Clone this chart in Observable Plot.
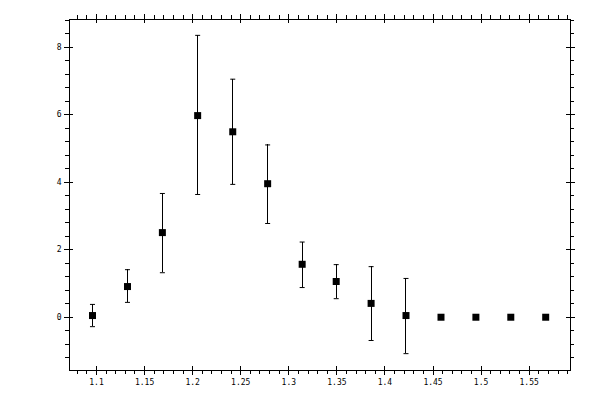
<!DOCTYPE html>
<html>
<head>
<meta charset="utf-8">
<script src="https://cdn.jsdelivr.net/npm/d3@7"></script>
<script src="https://cdn.jsdelivr.net/npm/@observablehq/plot@0.6"></script>
<style>
  html, body { margin: 0; padding: 0; background: white; }
</style>
</head>
<body>
<div id="chart"></div>
<script>
// Data
const xs    = [1.0958, 1.1322, 1.1685, 1.2052, 1.2417, 1.2780, 1.3139, 1.3493, 1.3856, 1.4219, 1.4583, 1.4946, 1.5309, 1.5672];
const ys    = [0.05,   0.91,   2.51,   5.98,   5.50,   3.96,   1.57,   1.06,   0.41,   0.05,   0,      0,      0,      0];
const upper = [0.38,   1.41,   3.67,   8.36,   7.06,   5.11,   2.23,   1.56,   1.50,   1.15,   null,   null,   null,   null];
const lower = [-0.28,  0.44,   1.32,   3.64,   3.94,   2.78,   0.88,   0.55,  -0.69,  -1.08,   null,   null,   null,   null];

// Tick labels
const xMajor = [1.1, 1.15, 1.2, 1.25, 1.3, 1.35, 1.4, 1.45, 1.5, 1.55];
const xMinor = [1.08, 1.09, 1.11, 1.12, 1.13, 1.14, 1.16, 1.17, 1.18, 1.19, 1.21, 1.22, 1.23, 1.24,
                1.26, 1.27, 1.28, 1.29, 1.31, 1.32, 1.33, 1.34, 1.36, 1.37, 1.38, 1.39, 1.41, 1.42,
                1.43, 1.44, 1.46, 1.47, 1.48, 1.49, 1.51, 1.52, 1.53, 1.54, 1.56, 1.57, 1.58, 1.59];
const yMajor = [0, 2, 4, 6, 8];
const yMinor = [-1.2, -0.8, -0.4, 0.4, 0.8, 1.2, 1.6, 2.4, 2.8, 3.2, 3.6, 4.4, 4.8, 5.2, 5.6,
                6.4, 6.8, 7.2, 7.6, 8.4, 8.8];

const data = xs.map((x, i) => ({x, y: ys[i], hi: upper[i], lo: lower[i]}));
const bars = data.filter(d => d.hi != null);

const W = 600, H = 400;
const mL = 69, mR = 30, mT = 19, mB = 30;
const innerW = W - mL - mR, innerH = H - mT - mB;

const capSymbol = {
  draw(ctx) { ctx.moveTo(-2.5, 0); ctx.lineTo(2.5, 0); }
};
const squareSymbol = {
  draw(ctx) { ctx.rect(-3.5, -3.5, 7, 7); }
};

const crisp = {stroke: "black", strokeWidth: 1, shapeRendering: "crispEdges"};

const chart = Plot.plot({
  width: W,
  height: H,
  marginLeft: mL,
  marginRight: mR,
  marginTop: mT,
  marginBottom: mB,
  style: {fontFamily: "'DejaVu Sans Mono', monospace", fontSize: "8px", background: "white", color: "black"},
  x: {domain: [1.0719, 1.593], axis: null},
  y: {domain: [-1.58, 8.83], axis: null},
  marks: [
    Plot.frame(crisp),
    // bottom ticks
    Plot.tickX(xMajor, {x: d => d, insetTop: innerH - 4, insetBottom: -5, ...crisp}),
    Plot.tickX(xMinor, {x: d => d, insetTop: innerH, insetBottom: -4, ...crisp}),
    // top ticks
    Plot.tickX(xMajor, {x: d => d, insetTop: -5, insetBottom: innerH - 4, ...crisp}),
    Plot.tickX(xMinor, {x: d => d, insetTop: -4, insetBottom: innerH, ...crisp}),
    // left ticks
    Plot.tickY(yMajor, {y: d => d, insetLeft: -5, insetRight: innerW - 4, ...crisp}),
    Plot.tickY(yMinor, {y: d => d, insetLeft: -4, insetRight: innerW, ...crisp}),
    // right ticks
    Plot.tickY(yMajor, {y: d => d, insetLeft: innerW - 4, insetRight: -5, ...crisp}),
    Plot.tickY(yMinor, {y: d => d, insetLeft: innerW, insetRight: -4, ...crisp}),
    // tick labels
    Plot.text(xMajor, {x: d => d, frameAnchor: "bottom", dy: 12, lineAnchor: "middle", text: d => String(d), fill: "black"}),
    Plot.text(yMajor, {y: d => d, frameAnchor: "left", dx: -8, textAnchor: "end", lineAnchor: "middle", text: d => String(d), fill: "black"}),
    // error bars
    Plot.ruleX(bars, {x: "x", y1: "lo", y2: "hi", ...crisp}),
    Plot.dot(bars, {x: "x", y: "hi", symbol: capSymbol, stroke: "black", fill: "none", strokeWidth: 1}),
    Plot.dot(bars, {x: "x", y: "lo", symbol: capSymbol, stroke: "black", fill: "none", strokeWidth: 1}),
    // points
    Plot.dot(data, {x: "x", y: "y", symbol: squareSymbol, fill: "black", stroke: "none"})
  ]
});

document.getElementById("chart").appendChild(chart);
</script>
</body>
</html>
